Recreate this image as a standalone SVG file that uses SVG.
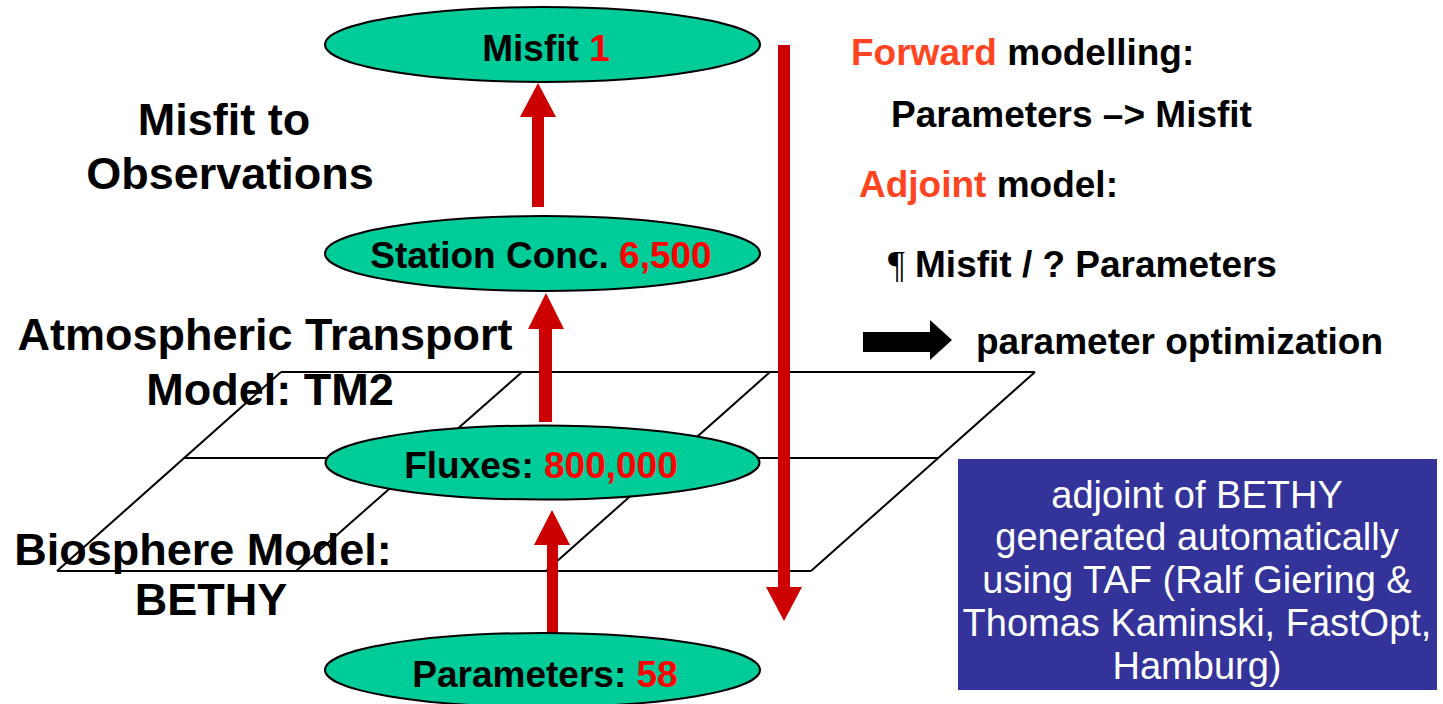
<svg xmlns="http://www.w3.org/2000/svg" width="1443" height="704" viewBox="0 0 1443 704">
<style>
.node{fill:#00cc99;stroke:#000;stroke-width:2}
.nl{font-family:"Liberation Sans",Arial,sans-serif;font-weight:bold;font-size:37px;fill:#000;text-anchor:middle}
.num{fill:#ff0000}
.lab{font-family:"Liberation Sans",Arial,sans-serif;font-weight:bold;font-size:45px;fill:#000;text-anchor:middle}
.rt{font-family:"Liberation Sans",Arial,sans-serif;font-weight:bold;font-size:37px;fill:#000}
.hl{fill:#ff4422}
.grid{stroke:#000;stroke-width:2;fill:none}
.red{fill:#cc0000}
.box{fill:#333399}
.bt{font-family:"Liberation Sans",Arial,sans-serif;font-size:38px;fill:#fff;text-anchor:middle}
</style>
<rect width="1443" height="704" fill="#fff"/>
<g id="grid" class="grid">
<line x1="281" y1="372" x2="1035" y2="372"/>
<line x1="183" y1="458" x2="938" y2="458"/>
<line x1="57" y1="571" x2="811" y2="571"/>
<line x1="57" y1="571" x2="281" y2="372"/>
<line x1="296" y1="571" x2="522" y2="372"/>
<line x1="546" y1="571" x2="770" y2="372"/>
<line x1="811" y1="571" x2="1035" y2="372"/>
</g>
<g id="labels">
<text class="lab" x="224" y="135">Misfit to</text>
<text class="lab" x="230" y="189">Observations</text>
<text class="lab" x="265" y="350">Atmospheric Transport</text>
<text class="lab" x="270" y="405">Model: TM2</text>
<text class="lab" x="203" y="565">Biosphere Model:</text>
<text class="lab" x="211" y="615">BETHY</text>
</g>
<g id="connectors">
<polygon class="red" points="532,207 544,207 544,117 556,117 538,83 520,117 532,117"/>
<polygon class="red" points="539,422 552,422 552,329 564,329 546,293 528,329 539,329"/>
<polygon class="red" points="547,633 558,633 558,545 570,545 552,510 534,545 547,545"/>
<polygon class="red" points="778,45 790,45 790,587 802,587 784,621 766,587 778,587"/>
<polygon fill="#000" points="863,332 930,332 930,320 952,340 930,360 930,352 863,352"/>
</g>
<g id="misfit">
<ellipse class="node" cx="542.5" cy="44.5" rx="217.5" ry="37.5"/>
<text class="nl" x="546" y="61">Misfit <tspan class="num">1</tspan></text>
</g>
<g id="station">
<ellipse class="node" cx="542.5" cy="253.5" rx="217.5" ry="37.5"/>
<text class="nl" x="541" y="268">Station Conc. <tspan class="num">6,500</tspan></text>
</g>
<g id="fluxes">
<ellipse class="node" cx="542.5" cy="462.5" rx="217" ry="37"/>
<text class="nl" x="541" y="478">Fluxes: <tspan class="num">800,000</tspan></text>
</g>
<g id="parameters">
<ellipse class="node" cx="542.5" cy="670" rx="217.5" ry="37"/>
<text class="nl" x="545" y="687">Parameters: <tspan class="num">58</tspan></text>
</g>
<g id="righttext">
<text class="rt" x="851" y="65"><tspan class="hl">Forward</tspan> modelling:</text>
<text class="rt" x="891" y="127">Parameters –&gt; Misfit</text>
<text class="rt" x="859" y="197"><tspan class="hl">Adjoint</tspan> model:</text>
<text class="rt" x="888" y="277"><tspan style="font-family:'Liberation Serif',serif;font-weight:normal">¶</tspan> Misfit / ? Parameters</text>
<text class="rt" x="976" y="354">parameter optimization</text>
</g>
<g id="tafbox">
<rect class="box" x="958" y="459" width="479" height="231"/>
<text class="bt" x="1197" y="508">adjoint of BETHY</text>
<text class="bt" x="1197" y="550">generated automatically</text>
<text class="bt" x="1197" y="593">using TAF (Ralf Giering &amp;</text>
<text class="bt" x="1197" y="636">Thomas Kaminski, FastOpt,</text>
<text class="bt" x="1197" y="679">Hamburg)</text>
</g>
</svg>
